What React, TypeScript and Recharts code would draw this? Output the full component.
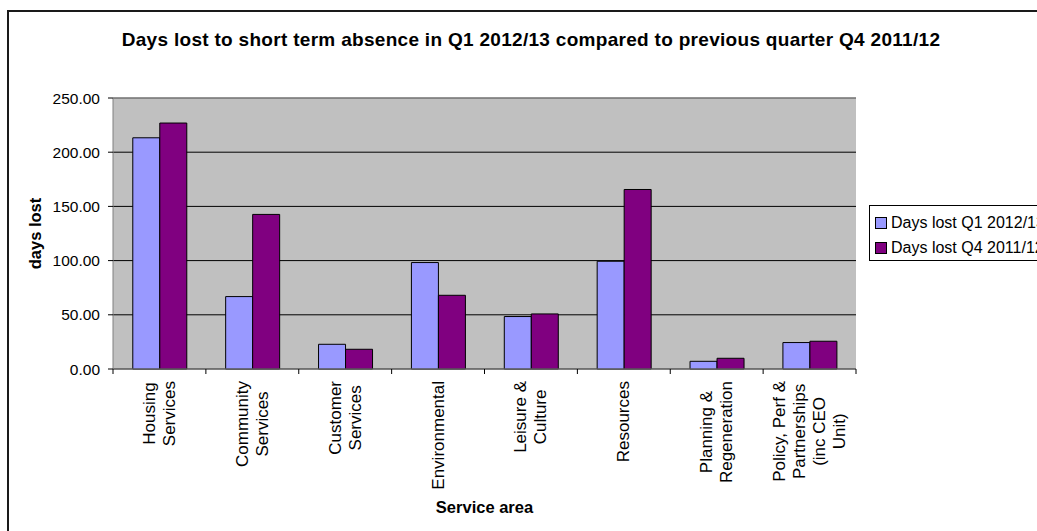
import React from "react";
import { BarChart, Bar, XAxis, YAxis, CartesianGrid, Legend, ReferenceLine } from "recharts";

const categories = [
  "Housing Services",
  "Community Services",
  "Customer Services",
  "Environmental",
  "Leisure & Culture",
  "Resources",
  "Planning & Regeneration",
  "Policy, Perf & Partnerships (inc CEO Unit)",
];
const categoryLines = [
  ["Housing", "Services"],
  ["Community", "Services"],
  ["Customer", "Services"],
  ["Environmental"],
  ["Leisure &", "Culture"],
  ["Resources"],
  ["Planning &", "Regeneration"],
  ["Policy, Perf &", "Partnerships", "(inc CEO", "Unit)"],
];
const q1Values = [213.3, 66.8, 22.8, 98.2, 48.4, 99.4, 7.1, 24.4];
const q4Values = [226.9, 142.6, 18.2, 68.0, 50.8, 165.6, 9.9, 25.6];
const yTicks = [0, 50, 100, 150, 200, 250];
const seriesNames = ["Days lost Q1 2012/13", "Days lost Q4 2011/12"];
const seriesColors = ["#9999FF", "#800080"];

const data = categories.map((c, i) => ({
  name: c,
  lines: categoryLines[i],
  q1: q1Values[i],
  q4: q4Values[i],
}));

const FONT = "'Liberation Sans', Arial, sans-serif";
const LABEL_SIZE = 17;
const LS = 0;

let ctx: CanvasRenderingContext2D | null = null;
function measure(t: string) {
  if (!ctx) {
    const c = document.createElement("canvas");
    ctx = c.getContext("2d");
  }
  if (!ctx) return t.length * 8;
  ctx.font = `${LABEL_SIZE}px ${FONT}`;
  return ctx.measureText(t).width + LS * t.length;
}

const CatTick = (props: any) => {
  const { x, y, payload, index, visibleTicksCount } = props;
  const lines: string[] = categoryLines[index] || [payload.value];
  const half = payload.offset || 0;
  const maxW = Math.max(...lines.map(measure));
  const top = y + 7;
  const cy = top + maxW / 2;
  const lh = 20;
  const n = lines.length;
  return (
    <g>
      <line x1={x - half} x2={x - half} y1={y - 5} y2={y} stroke="#000" />
      {index === visibleTicksCount - 1 && (
        <line x1={x + half} x2={x + half} y1={y - 5} y2={y} stroke="#000" />
      )}
      {lines.map((l, i) => {
        const lx = x + (i - (n - 1) / 2) * lh;
        return (
          <text
            key={i}
            x={lx}
            y={cy}
            transform={`rotate(-90, ${lx}, ${cy})`}
            textAnchor="middle"
            dominantBaseline="central"
            fontSize={LABEL_SIZE}
            fontFamily={FONT}
            letterSpacing={LS}
            fill="#000"
          >
            {l}
          </text>
        );
      })}
    </g>
  );
};

const LegendBox = () => (
  <div
    style={{
      border: "1px solid #000",
      background: "#fff",
      width: 240,
      height: 56,
      boxSizing: "border-box",
      paddingLeft: 5,
      paddingTop: 6,
      fontFamily: FONT,
      fontSize: 16,
      color: "#000",
    }}
  >
    {seriesNames.map((n, i) => (
      <div key={n} style={{ display: "flex", alignItems: "center", height: 21, marginBottom: i === 0 ? 4 : 0, whiteSpace: "nowrap" }}>
        <span
          style={{
            display: "inline-block",
            width: 10,
            height: 10,
            background: seriesColors[i],
            border: "1px solid #000",
            marginRight: 4,
          }}
        />
        {n}
      </div>
    ))}
  </div>
);

export default function App() {
  return (
    <div
      style={{
        position: "absolute",
        left: 0,
        top: 0,
        width: 1037,
        height: 531,
        overflow: "hidden",
        background: "#fff",
        fontFamily: FONT,
      }}
    >
      <div
        style={{
          position: "absolute",
          left: 7,
          top: 10,
          width: 1200,
          height: 700,
          border: "2px solid #1a1a1a",
          boxSizing: "border-box",
        }}
      />
      <div
        style={{
          position: "absolute",
          left: 0,
          width: 1062,
          top: 29,
          textAlign: "center",
          fontWeight: "bold",
          fontSize: 19,
          letterSpacing: 0.3,
          fontFamily: FONT,
          color: "#000",
          whiteSpace: "nowrap",
        }}
      >
        Days lost to short term absence in Q1 2012/13 compared to previous quarter Q4 2011/12
      </div>
      <div style={{ position: "absolute", left: 0, top: 0 }}>
        <BarChart
          width={1037}
          height={531}
          data={data}
          margin={{ top: 98, right: 181, left: 10, bottom: 0 }}
          barCategoryGap="21.3%"
          barGap={0}
        >
          <CartesianGrid vertical={false} stroke="#000" fill="#C0C0C0" fillOpacity={1} />
          <XAxis
            dataKey="name"
            height={162}
            interval={0}
            tickLine={false}
            tickSize={5}
            tickMargin={0}
            axisLine={{ stroke: "#808080" }}
            tick={<CatTick />}
            label={(p: any) => {
              const vb = p.viewBox;
              return (
                <text
                  x={vb.x + vb.width / 2}
                  y={507}
                  textAnchor="middle"
                  dominantBaseline="central"
                  fontWeight="bold"
                  fontSize={16.5}
                  fontFamily={FONT}
                  fill="#000"
                >
                  Service area
                </text>
              );
            }}
          />
          <YAxis
            width={103}
            domain={[0, 250]}
            ticks={yTicks}
            interval={0}
            tickFormatter={(v: number) => v.toFixed(2)}
            tick={{ fontSize: 15.5, fill: "#000", fontFamily: FONT }}
            tickSize={5}
            tickMargin={8}
            tickLine={{ stroke: "#000" }}
            axisLine={{ stroke: "#808080" }}
            label={(p: any) => {
              const vb = p.viewBox;
              const lx = vb.x + 25;
              const ly = vb.y + vb.height / 2;
              return (
                <text
                  x={lx}
                  y={ly}
                  transform={`rotate(-90, ${lx}, ${ly})`}
                  textAnchor="middle"
                  dominantBaseline="central"
                  fontWeight="bold"
                  fontSize={16.5}
                  fontFamily={FONT}
                  fill="#000"
                >
                  days lost
                </text>
              );
            }}
          />
          <YAxis
            yAxisId="right"
            orientation="right"
            width={0}
            tick={false}
            tickLine={false}
            axisLine={{ stroke: "#808080" }}
          />
          <ReferenceLine y={250} stroke="#a8a8a8" />
          <Legend
            layout="horizontal"
            verticalAlign="middle"
            align="center"
            content={<LegendBox />}
            wrapperStyle={{ left: 869, top: 205, width: 240, height: 56 }}
          />
          <Bar dataKey="q1" name={seriesNames[0]} fill={seriesColors[0]} stroke="#000" strokeWidth={1} isAnimationActive={false} />
          <Bar dataKey="q4" name={seriesNames[1]} fill={seriesColors[1]} stroke="#000" strokeWidth={1} isAnimationActive={false} />
        </BarChart>
      </div>
    </div>
  );
}
